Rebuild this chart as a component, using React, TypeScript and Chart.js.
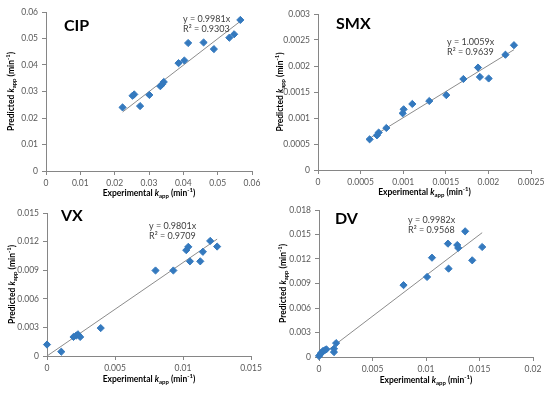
import React, { useEffect, useRef } from 'react';
import { Chart, registerables } from 'chart.js';

Chart.register(...registerables);

const FONT = 'Lato';

// ---------- CIP ----------
const cipExperimental = [0.0223, 0.0252, 0.0257, 0.0274, 0.0301, 0.0333, 0.0338, 0.0343, 0.0386, 0.0403, 0.0414, 0.0459, 0.0489, 0.0534, 0.0548, 0.0566];
const cipPredicted = [0.0240, 0.0284, 0.0289, 0.0245, 0.0287, 0.0320, 0.0327, 0.0336, 0.0407, 0.0417, 0.0483, 0.0485, 0.0460, 0.0503, 0.0516, 0.0570];
const cipSlope = 0.9981;
const cipR2 = '0.9303';
const cipTicksX = [0, 0.01, 0.02, 0.03, 0.04, 0.05, 0.06];
const cipTicksY = [0, 0.01, 0.02, 0.03, 0.04, 0.05, 0.06];

// ---------- SMX ----------
const smxExperimental = [0.000606, 0.000692, 0.000712, 0.000802, 0.000994, 0.001005, 0.001107, 0.001306, 0.001506, 0.001706, 0.001878, 0.0019, 0.002003, 0.0022, 0.0023];
const smxPredicted = [0.00059, 0.000667, 0.00072, 0.000808, 0.00109, 0.001167, 0.00127, 0.001327, 0.00144, 0.00175, 0.00197, 0.00179, 0.00176, 0.002217, 0.0024];
const smxSlope = 1.0059;
const smxR2 = '0.9639';
const smxTicksX = [0, 0.0005, 0.001, 0.0015, 0.002, 0.0025];
const smxTicksY = [0, 0.0005, 0.001, 0.0015, 0.002, 0.0025, 0.003];

// ---------- VX ----------
const vxExperimental = [0, 0.00105, 0.00195, 0.00215, 0.00227, 0.00244, 0.00395, 0.00798, 0.00929, 0.01024, 0.01039, 0.01051, 0.01127, 0.01146, 0.012, 0.01251];
const vxPredicted = [0.0012, 0.00045, 0.002, 0.00214, 0.00228, 0.002, 0.00293, 0.00897, 0.00897, 0.0111, 0.01145, 0.00993, 0.00993, 0.01093, 0.01207, 0.01148];
const vxSlope = 0.9801;
const vxR2 = '0.9709';
const vxTicksX = [0, 0.005, 0.01, 0.015];
const vxTicksY = [0, 0.003, 0.006, 0.009, 0.012, 0.015];

// ---------- DV ----------
const dvExperimental = [0, 0.000125, 0.00022, 0.000375, 0.00053, 0.00069, 0.0014, 0.0014, 0.0016, 0.0079, 0.0101, 0.01056, 0.01205, 0.01211, 0.01292, 0.01301, 0.01366, 0.01432, 0.01525];
const dvPredicted = [0.00012, 0.00033, 0.00053, 0.00074, 0.00082, 0.00094, 0.0006, 0.001, 0.0017, 0.0088, 0.0098, 0.01216, 0.01388, 0.01082, 0.01371, 0.01335, 0.01539, 0.01184, 0.01347];
const dvSlope = 0.9982;
const dvR2 = '0.9568';
const dvTicksX = [0, 0.005, 0.01, 0.015, 0.02];
const dvTicksY = [0, 0.003, 0.006, 0.009, 0.012, 0.015, 0.018];

type Part = { t: string; s?: 'i' | 'sub' | 'sup' };

const xTitleParts: Part[] = [
  { t: 'Experimental ' }, { t: 'k', s: 'i' }, { t: 'app', s: 'sub' }, { t: ' (min' }, { t: '-1', s: 'sup' }, { t: ')' },
];
const yTitleParts: Part[] = [
  { t: 'Predicted ' }, { t: 'k', s: 'i' }, { t: 'app', s: 'sub' }, { t: ' (min' }, { t: '-1', s: 'sup' }, { t: ')' },
];

function partFont(p: Part, size: number) {
  if (p.s === 'i') return `italic bold ${size}px ${FONT}`;
  if (p.s === 'sub' || p.s === 'sup') return `bold ${Math.round(size * 0.72)}px ${FONT}`;
  return `bold ${size}px ${FONT}`;
}

function drawRich(ctx: CanvasRenderingContext2D, parts: Part[], cx: number, cy: number, size: number, rotate: boolean) {
  ctx.save();
  ctx.translate(cx, cy);
  if (rotate) ctx.rotate(-Math.PI / 2);
  let total = 0;
  const widths = parts.map((p) => {
    ctx.font = partFont(p, size);
    const w = ctx.measureText(p.t).width;
    total += w;
    return w;
  });
  let x = -total / 2;
  ctx.fillStyle = '#000';
  ctx.textBaseline = 'middle';
  ctx.textAlign = 'left';
  parts.forEach((p, i) => {
    ctx.font = partFont(p, size);
    let dy = 0;
    if (p.s === 'sub') dy = size * 0.32;
    if (p.s === 'sup') dy = -size * 0.35;
    ctx.fillText(p.t, x, dy);
    x += widths[i];
  });
  ctx.restore();
}

const panelTextPlugin = {
  id: 'panelText',
  afterDraw(chart: any, _args: any, opts: any) {
    const ctx: CanvasRenderingContext2D = chart.ctx;
    const area = chart.chartArea;
    ctx.save();
    ctx.fillStyle = '#000';
    ctx.font = `bold 16px ${FONT}`;
    ctx.textAlign = 'left';
    ctx.textBaseline = 'alphabetic';
    ctx.fillText(opts.label, opts.labelX, opts.labelY);
    ctx.font = `9px ${FONT}`;
    ctx.fillStyle = '#404040';
    ctx.textBaseline = 'middle';
    ctx.fillText(`y = ${opts.slope}x`, opts.eqX, opts.eqY);
    ctx.fillText(`R\u00B2 = ${opts.r2}`, opts.eqX, opts.eqY + 10);
    ctx.restore();
    drawRich(ctx, xTitleParts, (area.left + area.right) / 2, opts.xTitleY, 8.5, false);
    drawRich(ctx, yTitleParts, opts.yTitleX, (area.top + area.bottom) / 2, 8.5, true);
  },
};

const fmt = (v: number) => (v === 0 ? '0' : String(+v.toFixed(6)));

type PanelProps = {
  left: number; top: number; width: number; height: number;
  area: { l: number; r: number; t: number; b: number };
  xs: number[]; ys: number[]; slope: number; r2: string;
  ticksX: number[]; ticksY: number[];
  label: string; labelX: number; labelY: number;
  eqX: number; eqY: number; xTitleY: number; yTitleX: number;
};

function Panel(p: PanelProps) {
  const ref = useRef<HTMLCanvasElement | null>(null);
  useEffect(() => {
    if (!ref.current) return;
    const pts = p.xs.map((x, i) => ({ x, y: p.ys[i] }));
    const minX = Math.min(...p.xs);
    const maxX = Math.max(...p.xs);
    const axisColor = '#868686';
    const tickFont = { size: 8.5, family: FONT };
    const chart = new Chart(ref.current, {
      type: 'scatter',
      data: {
        datasets: [
          {
            data: pts,
            pointStyle: 'rectRot',
            pointRadius: 3.6,
            backgroundColor: '#3479be',
            borderColor: '#3479be',
            borderWidth: 1,
            clip: false as any,
          },
          {
            type: 'line' as any,
            data: [
              { x: minX, y: p.slope * minX },
              { x: maxX, y: p.slope * maxX },
            ],
            borderColor: '#8c8c8c',
            borderWidth: 1,
            pointRadius: 0,
            showLine: true,
            fill: false,
          },
        ],
      },
      options: {
        animation: false,
        responsive: false,
        devicePixelRatio: 1,
        layout: { padding: { left: 0, top: p.area.t, right: p.width - p.area.r, bottom: 0 } },
        plugins: {
          legend: { display: false },
          tooltip: { enabled: false },
          panelText: {
            label: p.label, labelX: p.labelX, labelY: p.labelY,
            slope: p.slope, r2: p.r2, eqX: p.eqX, eqY: p.eqY,
            xTitleY: p.xTitleY, yTitleX: p.yTitleX,
          },
        } as any,
        scales: {
          x: {
            type: 'linear',
            min: p.ticksX[0],
            max: p.ticksX[p.ticksX.length - 1],
            afterBuildTicks: (s: any) => { s.ticks = p.ticksX.map((v) => ({ value: v })); },
            afterFit: (s: any) => { s.height = p.height - p.area.b; },
            ticks: { callback: (v: any) => fmt(Number(v)), color: '#595959', font: tickFont, padding: 3, maxRotation: 0, autoSkip: false },
            grid: { drawOnChartArea: false, drawTicks: true, tickLength: 4, color: axisColor },
            border: { color: axisColor, width: 1 },
          },
          y: {
            type: 'linear',
            min: p.ticksY[0],
            max: p.ticksY[p.ticksY.length - 1],
            afterBuildTicks: (s: any) => { s.ticks = p.ticksY.map((v) => ({ value: v })); },
            afterFit: (s: any) => { s.width = p.area.l; },
            ticks: { callback: (v: any) => fmt(Number(v)), color: '#595959', font: tickFont, padding: 4, autoSkip: false },
            grid: { drawOnChartArea: false, drawTicks: true, tickLength: 4, color: axisColor },
            border: { color: axisColor, width: 1 },
          },
        },
      },
      plugins: [panelTextPlugin],
    } as any);
    return () => chart.destroy();
  }, []);
  return (
    <canvas
      ref={ref}
      width={p.width}
      height={p.height}
      style={{ position: 'absolute', left: p.left, top: p.top, width: p.width, height: p.height, display: 'block' }}
    />
  );
}

export default function App() {
  return (
    <div style={{ position: 'absolute', left: 0, top: 0, width: 550, height: 393, background: '#fff', overflow: 'hidden' }}>
      <Panel left={0} top={0} width={275} height={206}
        area={{ l: 46, r: 252, t: 12, b: 171 }}
        xs={cipExperimental} ys={cipPredicted} slope={cipSlope} r2={cipR2}
        ticksX={cipTicksX} ticksY={cipTicksY}
        label="CIP" labelX={64} labelY={31} eqX={183} eqY={19.5} xTitleY={193} yTitleX={11.5} />
      <Panel left={275} top={0} width={275} height={206}
        area={{ l: 43, r: 256, t: 14, b: 170 }}
        xs={smxExperimental} ys={smxPredicted} slope={smxSlope} r2={smxR2}
        ticksX={smxTicksX} ticksY={smxTicksY}
        label="SMX" labelX={61} labelY={28.5} eqX={172} eqY={42} xTitleY={192.5} yTitleX={5} />
      <Panel left={0} top={196} width={275} height={197}
        area={{ l: 47, r: 251, t: 17, b: 160 }}
        xs={vxExperimental} ys={vxPredicted} slope={vxSlope} r2={vxR2}
        ticksX={vxTicksX} ticksY={vxTicksY}
        label="VX" labelX={61} labelY={25} eqX={149} eqY={30.3} xTitleY={183.3} yTitleX={12} />
      <Panel left={275} top={196} width={275} height={197}
        area={{ l: 44, r: 258, t: 14, b: 161 }}
        xs={dvExperimental} ys={dvPredicted} slope={dvSlope} r2={dvR2}
        ticksX={dvTicksX} ticksY={dvTicksY}
        label="DV" labelX={60} labelY={28} eqX={133} eqY={24.5} xTitleY={184.3} yTitleX={8} />
    </div>
  );
}
